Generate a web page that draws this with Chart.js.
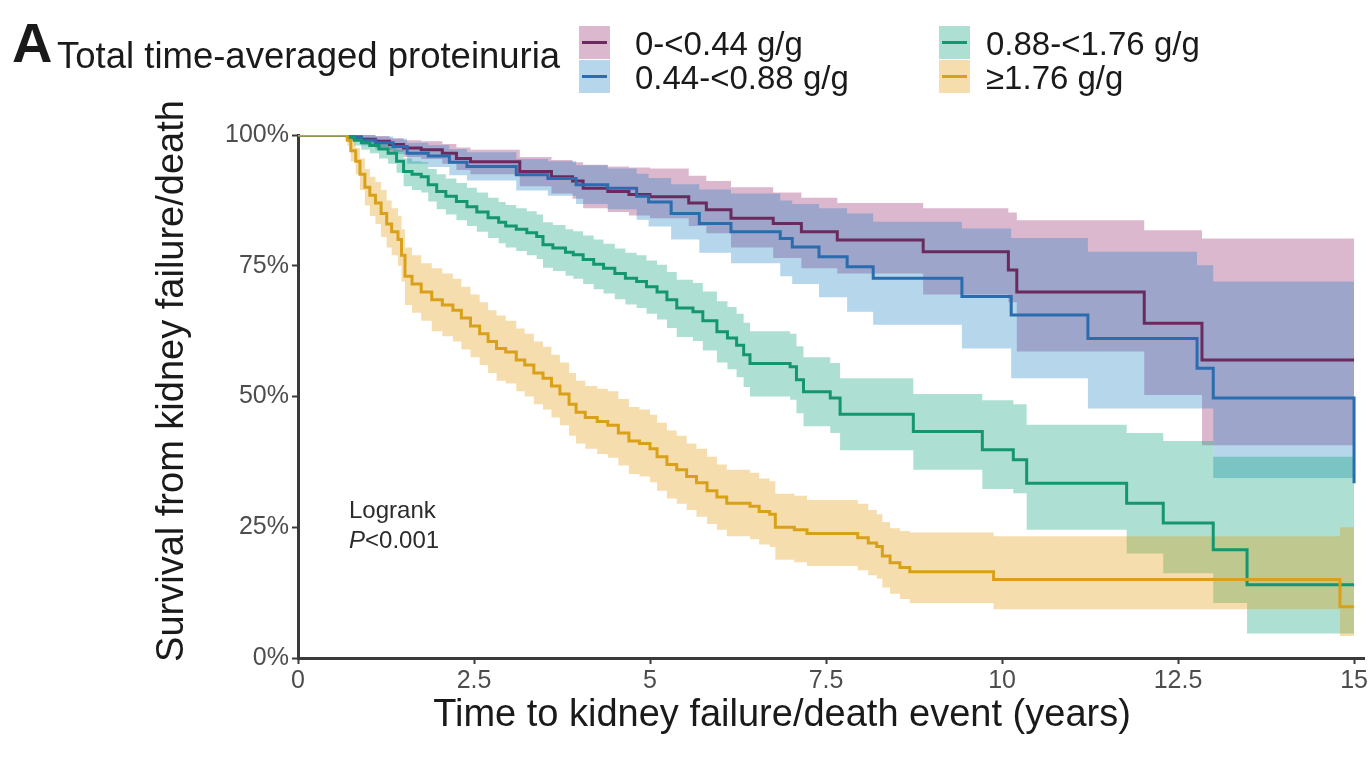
<!DOCTYPE html>
<html>
<head>
<meta charset="utf-8">
<title>Survival from kidney failure/death by time-averaged proteinuria</title>
<script src="https://cdn.jsdelivr.net/npm/chart.js@4.4.1/dist/chart.umd.min.js"></script>
<style>
  html, body { margin: 0; padding: 0; background: #fff; }
  #wrap {
    position: relative; width: 1370px; height: 757px; overflow: hidden;
    font-family: "Liberation Sans", Arial, sans-serif; color: #1a1a1a;
  }
  #km { position: absolute; left: 0; top: 0; }
  .panel { position: absolute; left: 12px; top: 15px; font-size: 56px; line-height: 56px; font-weight: bold; }
  .legend-title { position: absolute; left: 57px; top: 36px; font-size: 36.5px; line-height: 40px; white-space: nowrap; }
  .key { position: absolute; width: 31px; height: 33px; }
  .key .bar { position: absolute; left: 3px; top: 15px; width: 25px; height: 3px; }
  .lab { position: absolute; font-size: 33px; line-height: 33px; white-space: nowrap; }
  .note { position: absolute; left: 349px; top: 495px; font-size: 24px; line-height: 30px; color: #2b2b2b; }
  .axis-title { position: absolute; font-size: 38px; line-height: 44px; text-align: center; white-space: nowrap; }
  #xTitle { left: 332px; top: 691px; width: 900px; }
  #yTitle { left: -180px; top: 359px; width: 700px; transform: rotate(-90deg); }
</style>
</head>
<body>
<div id="wrap">
  <canvas id="km" width="1370" height="757"></canvas>
  <div class="panel">A</div>
  <div class="legend-title">Total time-averaged proteinuria</div>
  <div id="legend"></div>
  <div class="note">Logrank<br><i>P</i>&lt;0.001</div>
  <div class="axis-title" id="xTitle"></div>
  <div class="axis-title" id="yTitle"></div>
</div>
<script>
// groups, axis titles and ticks
const groupLabels = ["0-<0.44 g/g", "0.44-<0.88 g/g", "0.88-<1.76 g/g", "≥1.76 g/g"];
const xTitle = "Time to kidney failure/death event (years)";
const yTitle = "Survival from kidney failure/death";
const xTicks = [0, 2.5, 5, 7.5, 10, 12.5, 15];
const yTicks = [0, 25, 50, 75, 100];

// 0-<0.44 g/g : KM estimate (%) with 95% CI
const timesA = [0, 0.72, 0.90, 1.10, 1.30, 1.50, 1.75, 2.05, 2.25, 2.45, 3.15, 3.60, 3.90, 4.05, 4.40, 4.70, 5.00, 5.55, 5.80, 6.15, 6.75, 7.15, 7.66, 8.88, 10.09, 10.21, 12.02, 12.84, 15.00];
const survA  = [100, 99.6, 99.2, 98.8, 98.2, 97.5, 97.2, 96.5, 95.5, 94.9, 93.0, 92.0, 91.2, 89.8, 89.2, 88.6, 88.2, 87.0, 85.7, 84.1, 83.1, 81.5, 79.9, 77.7, 74.2, 70.0, 64.0, 57.0, 57.0];
const upperA = [100, 100, 100, 99.8, 99.4, 99.0, 98.8, 98.3, 97.6, 97.2, 95.8, 95.2, 94.8, 94.3, 94.0, 93.8, 93.6, 92.2, 91.2, 90.0, 89.0, 88.0, 87.0, 86.0, 85.2, 83.7, 81.8, 80.2, 80.2];
const lowerA = [100, 99.0, 98.3, 97.6, 96.8, 95.8, 95.4, 94.5, 93.3, 92.5, 90.2, 88.8, 87.8, 86.0, 85.3, 84.6, 84.1, 82.6, 81.2, 78.5, 76.5, 74.5, 73.5, 69.5, 68.0, 58.6, 50.3, 40.7, 40.7];

// 0.44-<0.88 g/g
const timesB = [0, 0.72, 0.90, 1.10, 1.35, 1.55, 1.85, 2.15, 2.40, 3.10, 3.55, 3.95, 4.40, 4.81, 4.98, 5.30, 5.70, 6.15, 6.85, 7.02, 7.40, 7.80, 8.17, 9.43, 10.13, 11.22, 12.77, 13.00, 15.00];
const survB  = [100, 99.5, 99.0, 98.5, 97.8, 96.5, 96.0, 94.8, 94.0, 92.4, 91.7, 90.5, 89.8, 88.3, 87.2, 85.0, 83.1, 81.5, 80.2, 78.6, 76.7, 74.8, 72.6, 69.1, 65.6, 61.1, 55.4, 49.7, 33.4];
const upperB = [100, 100, 100, 99.7, 99.3, 98.5, 98.1, 97.3, 96.7, 95.4, 95.0, 94.2, 93.6, 92.6, 91.8, 90.6, 89.6, 88.8, 87.5, 86.8, 86.0, 85.0, 83.4, 82.1, 80.3, 77.7, 75.1, 72.0, 72.0];
const lowerB = [100, 99.0, 98.0, 97.2, 96.3, 94.5, 93.9, 92.3, 91.3, 89.4, 88.4, 86.8, 85.8, 83.8, 82.5, 80.0, 77.5, 75.5, 73.0, 71.5, 69.0, 66.2, 63.7, 59.2, 53.5, 47.7, 47.7, 34.4, 34.4];

// 0.88-<1.76 g/g
const timesC = [0, 0.70, 0.80, 0.90, 1.02, 1.15, 1.28, 1.40, 1.50, 1.62, 1.75, 1.85, 1.97, 2.10, 2.25, 2.40, 2.54, 2.70, 2.85, 2.95, 3.10, 3.25, 3.39, 3.48, 3.62, 3.80, 3.91, 4.05, 4.20, 4.34, 4.50, 4.65, 4.81, 4.95, 5.10, 5.24, 5.38, 5.61, 5.75, 5.95, 6.10, 6.23, 6.33, 6.42, 6.99, 7.08, 7.18, 7.56, 7.70, 8.74, 9.72, 10.16, 10.35, 11.77, 12.29, 13.00, 13.48, 15.00];
const survC  = [100, 99.6, 99.0, 98.5, 98.0, 97.3, 96.5, 95.0, 93.0, 92.5, 92.0, 90.5, 89.2, 88.3, 87.3, 86.3, 85.3, 84.2, 83.3, 82.6, 82.0, 81.3, 80.6, 79.0, 78.4, 77.6, 77.1, 76.2, 75.3, 74.5, 73.5, 72.6, 72.0, 71.0, 70.0, 68.5, 66.9, 66.2, 64.5, 62.4, 61.2, 59.8, 58.0, 56.3, 55.7, 53.2, 50.9, 49.7, 46.6, 43.3, 39.8, 37.9, 33.4, 29.6, 25.8, 20.7, 14.0, 14.0];
const upperC = [100, 100, 99.8, 99.5, 99.3, 98.8, 98.3, 97.2, 95.5, 95.0, 94.8, 93.5, 92.5, 91.7, 90.8, 89.9, 89.0, 88.0, 87.2, 86.6, 86.0, 85.4, 84.8, 83.3, 82.8, 82.0, 81.6, 80.8, 80.0, 79.2, 78.3, 77.5, 77.0, 76.0, 75.2, 73.8, 72.3, 71.7, 70.1, 68.2, 67.1, 65.8, 64.1, 62.5, 62.0, 59.6, 57.5, 56.4, 53.5, 50.5, 49.3, 48.5, 44.6, 43.0, 41.5, 38.5, 38.5, 38.5];
const lowerC = [100, 99.0, 98.0, 97.2, 96.5, 95.5, 94.5, 92.8, 90.2, 89.5, 89.0, 87.3, 85.8, 84.8, 83.7, 82.6, 81.5, 80.3, 79.3, 78.5, 77.8, 77.0, 76.3, 74.6, 74.0, 73.1, 72.5, 71.5, 70.5, 69.7, 68.6, 67.6, 66.9, 65.8, 64.7, 63.1, 61.4, 60.6, 58.8, 56.5, 55.2, 53.7, 51.8, 50.0, 49.4, 46.8, 44.3, 43.0, 39.7, 36.0, 32.3, 31.5, 24.5, 20.0, 16.2, 10.5, 4.7, 4.7];

// ≥1.76 g/g
const timesD = [0, 0.70, 0.75, 0.82, 0.88, 0.95, 1.02, 1.10, 1.18, 1.26, 1.33, 1.42, 1.47, 1.52, 1.62, 1.75, 1.90, 2.05, 2.20, 2.32, 2.45, 2.58, 2.70, 2.82, 2.95, 3.10, 3.22, 3.35, 3.48, 3.60, 3.72, 3.85, 3.95, 4.08, 4.25, 4.40, 4.55, 4.70, 4.85, 5.00, 5.10, 5.24, 5.38, 5.52, 5.66, 5.81, 5.95, 6.09, 6.42, 6.55, 6.70, 6.78, 7.05, 7.23, 7.95, 8.10, 8.22, 8.30, 8.41, 8.55, 8.69, 9.88, 14.80, 15.00];
const survD  = [100, 99, 97, 95, 92.5, 90, 88.5, 87, 85, 83, 81.5, 80, 77, 73, 71.5, 70, 68.5, 67.5, 66.5, 65, 63.5, 62, 60.5, 59.2, 58.5, 57, 56, 54.5, 53.5, 52, 50.5, 48.5, 47, 46, 45.2, 44.5, 43, 41.5, 41, 40, 38.5, 37, 36, 34.7, 33.5, 32, 30.8, 29.6, 29.0, 28, 27.5, 25, 24.5, 23.8, 23, 22, 21.3, 19.5, 18.2, 17.3, 16.5, 15.0, 9.8, 9.8];
const upperD = [100, 100, 99, 97.5, 95.5, 93.5, 92, 91, 89.5, 87.5, 86, 84.5, 82, 78.5, 77, 75.5, 74.5, 73.5, 72.5, 71, 69.5, 68, 66.5, 65.5, 64.5, 63, 62, 60.5, 59.5, 58, 56.5, 54.5, 53, 52, 51.5, 51, 49.5, 48, 47.5, 46.5, 45, 43.5, 42.5, 41, 40, 38.5, 37, 36, 35.4, 34.3, 33.8, 31.4, 31, 30.2, 29.5, 28.3, 27.5, 26, 24.8, 24.3, 24, 23.3, 25, 25];
const lowerD = [100, 98, 95, 92.5, 89.5, 86.5, 84.5, 83, 80.5, 78.5, 77, 75, 72, 67.5, 66, 64.5, 62.5, 61.5, 60.5, 59, 57.5, 56, 54.5, 53, 52.5, 51, 50, 48.5, 47.5, 46, 44.5, 42.5, 41, 40, 39, 38.3, 36.8, 35.2, 34.7, 33.6, 32, 30.5, 29.5, 28.3, 27, 25.6, 24.5, 23.3, 22.7, 21.7, 21.2, 18.8, 18.3, 17.6, 16.8, 15.8, 15.2, 13.5, 12.3, 11.3, 10.5, 9.3, 4.2, 4.2];

// styling
const lineColors = ["#6b2a5e", "#2a6cae", "#149770", "#d9a019"];
const bandColors = ["rgba(140,20,95,0.3)", "rgba(10,120,190,0.3)", "rgba(0,160,115,0.32)", "rgba(225,150,0,0.32)"];
const axisColor = "#3a3a3a";
const tickLabelColor = "#4d4d4d";

document.getElementById("xTitle").textContent = xTitle;
document.getElementById("yTitle").textContent = yTitle;

const groups = [
  { time: timesA, surv: survA, upper: upperA, lower: lowerA },
  { time: timesB, surv: survB, upper: upperB, lower: lowerB },
  { time: timesC, surv: survC, upper: upperC, lower: lowerC },
  { time: timesD, surv: survD, upper: upperD, lower: lowerD }
];

const toPoints = (xs, ys) => xs.map((x, i) => ({ x: x, y: ys[i] }));

// fills are drawn from the last dataset back, so push the highest group first
// to get the lowest-proteinuria band painted underneath
const datasets = [];
for (let g = groups.length - 1; g >= 0; g--) {
  const grp = groups[g];
  datasets.push({
    label: groupLabels[g] + " upper",
    data: toPoints(grp.time, grp.upper),
    stepped: "before",
    borderWidth: 0,
    pointRadius: 0,
    backgroundColor: bandColors[g],
    fill: "+1"
  });
  datasets.push({
    label: groupLabels[g] + " lower",
    data: toPoints(grp.time, grp.lower),
    stepped: "before",
    borderWidth: 0,
    pointRadius: 0,
    fill: false
  });
  datasets.push({
    label: groupLabels[g],
    data: toPoints(grp.time, grp.surv),
    stepped: "before",
    borderColor: lineColors[g],
    borderWidth: 3,
    pointRadius: 0,
    fill: false
  });
}

// legend: two columns, two rows
const keyLeft = [579, 939];
const textLeft = [635, 986];
const rowTop = [26, 60];
const legendEl = document.getElementById("legend");
groupLabels.forEach((label, i) => {
  const col = Math.floor(i / 2);
  const row = i % 2;
  const key = document.createElement("div");
  key.className = "key";
  key.style.left = keyLeft[col] + "px";
  key.style.top = rowTop[row] + "px";
  key.style.background = bandColors[i];
  const bar = document.createElement("div");
  bar.className = "bar";
  bar.style.background = lineColors[i];
  key.appendChild(bar);
  const lab = document.createElement("div");
  lab.className = "lab";
  lab.style.left = textLeft[col] + "px";
  lab.style.top = (rowTop[row] + 1) + "px";
  lab.textContent = label;
  legendEl.appendChild(key);
  legendEl.appendChild(lab);
});

Chart.defaults.font.family = "'Liberation Sans', Arial, sans-serif";

new Chart(document.getElementById("km").getContext("2d"), {
  type: "line",
  data: { datasets: datasets },
  options: {
    responsive: false,
    animation: false,
    events: [],
    layout: { padding: { left: 144, top: 135, right: 5, bottom: 0 } },
    plugins: {
      legend: { display: false },
      tooltip: { enabled: false },
      filler: { drawTime: "beforeDatasetsDraw" }
    },
    scales: {
      x: {
        type: "linear",
        min: 0,
        max: 15.15,
        afterBuildTicks: (scale) => { scale.ticks = xTicks.map((v) => ({ value: v })); },
        afterFit: (scale) => { scale.height = 99; },
        ticks: {
          color: tickLabelColor,
          font: { size: 25 },
          padding: 2,
          maxRotation: 0,
          callback: (value) => String(value)
        },
        grid: { drawOnChartArea: false, drawTicks: true, tickLength: 6, tickColor: axisColor, tickWidth: 2 },
        border: { display: true, color: axisColor, width: 3 }
      },
      y: {
        type: "linear",
        min: 0,
        max: 100,
        afterBuildTicks: (scale) => { scale.ticks = yTicks.map((v) => ({ value: v })); },
        afterFit: (scale) => { scale.width = 154; },
        ticks: {
          color: tickLabelColor,
          font: { size: 25 },
          padding: 3,
          callback: (value) => value + "%"
        },
        grid: { drawOnChartArea: false, drawTicks: true, tickLength: 6, tickColor: axisColor, tickWidth: 2 },
        border: { display: true, color: axisColor, width: 3 }
      }
    }
  }
});
</script>
</body>
</html>
